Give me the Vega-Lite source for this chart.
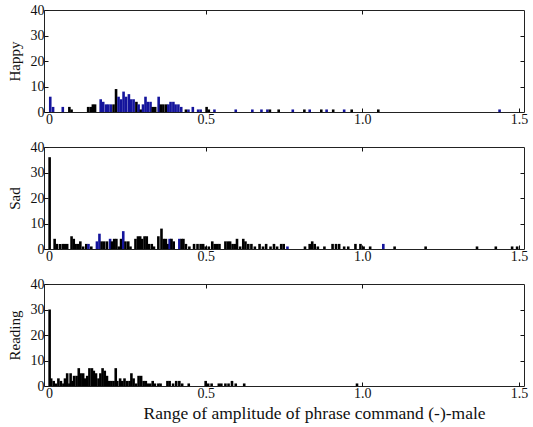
{
  "$schema": "https://vega.github.io/schema/vega-lite/v6.json",
  "background": "white",
  "padding": {"left": 6, "top": 2, "right": 0, "bottom": 5},
  "config": {
    "view": {"stroke": "#222", "strokeWidth": 1},
    "concat": {"spacing": 12},
    "axis": {
      "grid": false, "domain": false,
      "labelFont": "Liberation Serif", "labelFontSize": 14, "labelColor": "#111",
      "titleFont": "Liberation Serif", "titleFontWeight": "normal", "titleColor": "#111",
      "tickColor": "#111", "tickSize": -4, "labelPadding": 4
    }
  },
  "datasets": {
    "happy": [
      {"x":0.004,"n":6,"c":"blue"},{"x":0.013,"n":2,"c":"blue"},{"x":0.044,"n":2,"c":"blue"},{"x":0.065,"n":2,"c":"black"},{"x":0.072,"n":1,"c":"black"},
      {"x":0.125,"n":2,"c":"black"},{"x":0.133,"n":2,"c":"black"},{"x":0.140,"n":3,"c":"black"},{"x":0.147,"n":3,"c":"black"},{"x":0.165,"n":5,"c":"blue"},
      {"x":0.173,"n":4,"c":"blue"},{"x":0.182,"n":3,"c":"blue"},{"x":0.189,"n":3,"c":"blue"},{"x":0.197,"n":3,"c":"blue"},{"x":0.206,"n":3,"c":"black"},
      {"x":0.214,"n":9,"c":"black"},{"x":0.222,"n":6,"c":"blue"},{"x":0.230,"n":5,"c":"blue"},{"x":0.238,"n":8,"c":"blue"},{"x":0.246,"n":6,"c":"blue"},
      {"x":0.255,"n":7,"c":"blue"},{"x":0.262,"n":5,"c":"blue"},{"x":0.270,"n":5,"c":"blue"},{"x":0.279,"n":4,"c":"black"},{"x":0.286,"n":3,"c":"blue"},
      {"x":0.293,"n":1,"c":"black"},{"x":0.300,"n":3,"c":"blue"},{"x":0.308,"n":6,"c":"blue"},{"x":0.315,"n":4,"c":"blue"},{"x":0.324,"n":4,"c":"blue"},
      {"x":0.331,"n":2,"c":"black"},{"x":0.339,"n":2,"c":"black"},{"x":0.350,"n":6,"c":"blue"},{"x":0.357,"n":3,"c":"black"},{"x":0.365,"n":3,"c":"black"},
      {"x":0.374,"n":3,"c":"black"},{"x":0.381,"n":3,"c":"blue"},{"x":0.388,"n":4,"c":"blue"},{"x":0.397,"n":4,"c":"blue"},{"x":0.404,"n":3,"c":"blue"},
      {"x":0.413,"n":3,"c":"blue"},{"x":0.422,"n":2,"c":"blue"},{"x":0.437,"n":1,"c":"black"},{"x":0.445,"n":1,"c":"blue"},{"x":0.459,"n":2,"c":"blue"},
      {"x":0.476,"n":1,"c":"blue"},{"x":0.484,"n":1,"c":"blue"},{"x":0.503,"n":2,"c":"black"},{"x":0.510,"n":1,"c":"black"},{"x":0.528,"n":1,"c":"blue"},
      {"x":0.596,"n":1,"c":"blue"},{"x":0.649,"n":1,"c":"blue"},{"x":0.678,"n":1,"c":"blue"},{"x":0.697,"n":1,"c":"blue"},{"x":0.705,"n":1,"c":"black"},
      {"x":0.733,"n":1,"c":"black"},{"x":0.778,"n":1,"c":"blue"},{"x":0.815,"n":1,"c":"black"},{"x":0.832,"n":1,"c":"blue"},{"x":0.869,"n":1,"c":"black"},
      {"x":0.886,"n":1,"c":"blue"},{"x":0.907,"n":1,"c":"black"},{"x":0.942,"n":1,"c":"blue"},{"x":0.966,"n":1,"c":"black"},{"x":1.051,"n":1,"c":"black"},
      {"x":1.438,"n":1,"c":"blue"}
    ],
    "sad": [
      {"x":0.002,"n":36,"c":"black"},{"x":0.018,"n":4,"c":"black"},{"x":0.025,"n":2,"c":"black"},{"x":0.035,"n":2,"c":"black"},{"x":0.044,"n":2,"c":"black"},
      {"x":0.051,"n":2,"c":"black"},{"x":0.058,"n":2,"c":"black"},{"x":0.072,"n":5,"c":"black"},{"x":0.079,"n":4,"c":"black"},{"x":0.085,"n":2,"c":"black"},
      {"x":0.093,"n":2,"c":"black"},{"x":0.100,"n":3,"c":"black"},{"x":0.109,"n":1,"c":"black"},{"x":0.119,"n":2,"c":"black"},{"x":0.126,"n":2,"c":"blue"},
      {"x":0.135,"n":1,"c":"black"},{"x":0.153,"n":3,"c":"blue"},{"x":0.161,"n":6,"c":"blue"},{"x":0.168,"n":3,"c":"black"},{"x":0.176,"n":3,"c":"black"},
      {"x":0.185,"n":3,"c":"black"},{"x":0.195,"n":4,"c":"blue"},{"x":0.201,"n":3,"c":"black"},{"x":0.208,"n":4,"c":"black"},{"x":0.215,"n":4,"c":"black"},
      {"x":0.223,"n":1,"c":"black"},{"x":0.230,"n":4,"c":"black"},{"x":0.237,"n":7,"c":"blue"},{"x":0.244,"n":3,"c":"black"},{"x":0.253,"n":3,"c":"black"},
      {"x":0.260,"n":1,"c":"black"},{"x":0.276,"n":4,"c":"black"},{"x":0.284,"n":5,"c":"black"},{"x":0.291,"n":5,"c":"black"},{"x":0.297,"n":4,"c":"black"},
      {"x":0.305,"n":5,"c":"black"},{"x":0.312,"n":5,"c":"black"},{"x":0.319,"n":2,"c":"black"},{"x":0.328,"n":2,"c":"black"},{"x":0.335,"n":1,"c":"black"},
      {"x":0.349,"n":5,"c":"black"},{"x":0.359,"n":8,"c":"black"},{"x":0.366,"n":4,"c":"black"},{"x":0.373,"n":4,"c":"black"},{"x":0.380,"n":2,"c":"black"},
      {"x":0.385,"n":4,"c":"blue"},{"x":0.391,"n":4,"c":"black"},{"x":0.398,"n":3,"c":"black"},{"x":0.416,"n":4,"c":"blue"},{"x":0.423,"n":4,"c":"black"},
      {"x":0.429,"n":4,"c":"black"},{"x":0.437,"n":2,"c":"black"},{"x":0.448,"n":1,"c":"black"},{"x":0.463,"n":2,"c":"black"},{"x":0.474,"n":2,"c":"black"},
      {"x":0.484,"n":2,"c":"black"},{"x":0.492,"n":2,"c":"black"},{"x":0.500,"n":1,"c":"black"},{"x":0.510,"n":1,"c":"black"},{"x":0.521,"n":3,"c":"black"},
      {"x":0.529,"n":2,"c":"black"},{"x":0.537,"n":2,"c":"black"},{"x":0.544,"n":2,"c":"black"},{"x":0.563,"n":3,"c":"black"},{"x":0.571,"n":3,"c":"black"},
      {"x":0.578,"n":3,"c":"black"},{"x":0.586,"n":2,"c":"black"},{"x":0.594,"n":2,"c":"black"},{"x":0.600,"n":4,"c":"black"},{"x":0.610,"n":1,"c":"black"},
      {"x":0.620,"n":4,"c":"black"},{"x":0.627,"n":3,"c":"black"},{"x":0.636,"n":2,"c":"black"},{"x":0.646,"n":2,"c":"black"},{"x":0.657,"n":1,"c":"black"},
      {"x":0.672,"n":2,"c":"black"},{"x":0.683,"n":1,"c":"black"},{"x":0.693,"n":2,"c":"black"},{"x":0.707,"n":1,"c":"black"},{"x":0.718,"n":2,"c":"black"},
      {"x":0.728,"n":1,"c":"black"},{"x":0.741,"n":2,"c":"black"},{"x":0.749,"n":2,"c":"black"},{"x":0.761,"n":1,"c":"blue"},{"x":0.817,"n":1,"c":"black"},
      {"x":0.832,"n":2,"c":"black"},{"x":0.840,"n":3,"c":"black"},{"x":0.848,"n":2,"c":"black"},{"x":0.858,"n":1,"c":"black"},{"x":0.879,"n":1,"c":"black"},
      {"x":0.905,"n":2,"c":"black"},{"x":0.916,"n":2,"c":"black"},{"x":0.926,"n":2,"c":"black"},{"x":0.942,"n":1,"c":"black"},{"x":0.955,"n":1,"c":"black"},
      {"x":0.978,"n":2,"c":"black"},{"x":0.994,"n":2,"c":"black"},{"x":1.004,"n":1,"c":"black"},{"x":1.025,"n":1,"c":"black"},{"x":1.067,"n":2,"c":"blue"},
      {"x":1.103,"n":1,"c":"black"},{"x":1.202,"n":1,"c":"black"},{"x":1.366,"n":1,"c":"black"},{"x":1.426,"n":1,"c":"black"},{"x":1.478,"n":1,"c":"black"},
      {"x":1.494,"n":1,"c":"black"}
    ],
    "reading": [
      {"x":0.002,"n":30,"c":"black"},{"x":0.007,"n":3,"c":"black"},{"x":0.015,"n":2,"c":"black"},{"x":0.022,"n":1,"c":"black"},{"x":0.030,"n":3,"c":"black"},
      {"x":0.038,"n":2,"c":"black"},{"x":0.046,"n":1,"c":"black"},{"x":0.051,"n":3,"c":"black"},{"x":0.058,"n":5,"c":"black"},{"x":0.065,"n":1,"c":"black"},
      {"x":0.069,"n":5,"c":"black"},{"x":0.075,"n":2,"c":"black"},{"x":0.080,"n":4,"c":"black"},{"x":0.088,"n":4,"c":"black"},{"x":0.095,"n":7,"c":"black"},
      {"x":0.101,"n":5,"c":"black"},{"x":0.109,"n":5,"c":"black"},{"x":0.114,"n":3,"c":"black"},{"x":0.122,"n":4,"c":"black"},{"x":0.129,"n":7,"c":"black"},
      {"x":0.137,"n":7,"c":"black"},{"x":0.143,"n":6,"c":"black"},{"x":0.150,"n":5,"c":"black"},{"x":0.158,"n":3,"c":"black"},{"x":0.164,"n":5,"c":"black"},
      {"x":0.171,"n":7,"c":"black"},{"x":0.178,"n":6,"c":"black"},{"x":0.185,"n":4,"c":"black"},{"x":0.192,"n":2,"c":"black"},{"x":0.199,"n":2,"c":"black"},
      {"x":0.206,"n":2,"c":"black"},{"x":0.213,"n":7,"c":"black"},{"x":0.218,"n":2,"c":"black"},{"x":0.227,"n":3,"c":"black"},{"x":0.234,"n":2,"c":"black"},
      {"x":0.241,"n":3,"c":"black"},{"x":0.249,"n":2,"c":"black"},{"x":0.257,"n":2,"c":"black"},{"x":0.263,"n":5,"c":"black"},{"x":0.270,"n":3,"c":"black"},
      {"x":0.278,"n":1,"c":"black"},{"x":0.286,"n":4,"c":"black"},{"x":0.294,"n":4,"c":"black"},{"x":0.302,"n":2,"c":"black"},{"x":0.309,"n":2,"c":"black"},
      {"x":0.315,"n":1,"c":"black"},{"x":0.323,"n":1,"c":"black"},{"x":0.331,"n":2,"c":"black"},{"x":0.338,"n":1,"c":"black"},{"x":0.349,"n":1,"c":"black"},
      {"x":0.356,"n":1,"c":"black"},{"x":0.378,"n":2,"c":"black"},{"x":0.385,"n":2,"c":"black"},{"x":0.396,"n":1,"c":"black"},{"x":0.406,"n":2,"c":"black"},
      {"x":0.416,"n":2,"c":"black"},{"x":0.425,"n":1,"c":"black"},{"x":0.446,"n":1,"c":"black"},{"x":0.500,"n":2,"c":"black"},{"x":0.508,"n":1,"c":"black"},
      {"x":0.519,"n":1,"c":"black"},{"x":0.542,"n":1,"c":"black"},{"x":0.550,"n":1,"c":"black"},{"x":0.563,"n":1,"c":"black"},{"x":0.573,"n":1,"c":"black"},
      {"x":0.584,"n":2,"c":"black"},{"x":0.596,"n":1,"c":"black"},{"x":0.623,"n":1,"c":"black"},{"x":0.983,"n":1,"c":"black"}
    ]
  },
  "vconcat": [
    {
      "width": 480, "height": 102,
      "data": {"name": "happy"},
      "layer": [
        {
          "mark": {"type": "bar", "size": 2.6},
          "encoding": {
            "x": {"field": "x", "type": "quantitative", "scale": {"domain": [0, 1.5], "nice": false},
                  "axis": {"orient": "bottom", "values": [0, 0.5, 1, 1.5], "title": null, "labelFlush": false,
                           "labelExpr": "datum.value == 0 ? '0' : format(datum.value, '.1f')"}},
            "y": {"field": "n", "type": "quantitative", "scale": {"domain": [0, 40], "nice": false},
                  "axis": {"orient": "left", "values": [0, 10, 20, 30, 40], "title": "Happy", "titleFontSize": 15, "titlePadding": 8}},
            "color": {"field": "c", "type": "nominal", "scale": {"domain": ["black", "blue"], "range": ["#000000", "#14149c"]}, "legend": null}
          }
        },
        {
          "mark": {"type": "bar", "size": 2.6, "opacity": 0},
          "encoding": {
            "x": {"field": "x", "type": "quantitative", "axis": {"orient": "top", "values": [0.5, 1], "labels": false, "title": null}},
            "y": {"field": "n", "type": "quantitative", "axis": {"orient": "right", "values": [10, 20, 30], "labels": false, "title": null}}
          }
        }
      ],
      "resolve": {"axis": {"x": "independent", "y": "independent"}}
    },
    {
      "width": 480, "height": 102,
      "data": {"name": "sad"},
      "layer": [
        {
          "mark": {"type": "bar", "size": 2.6},
          "encoding": {
            "x": {"field": "x", "type": "quantitative", "scale": {"domain": [0, 1.5], "nice": false},
                  "axis": {"orient": "bottom", "values": [0, 0.5, 1, 1.5], "title": null, "labelFlush": false,
                           "labelExpr": "datum.value == 0 ? '0' : format(datum.value, '.1f')"}},
            "y": {"field": "n", "type": "quantitative", "scale": {"domain": [0, 40], "nice": false},
                  "axis": {"orient": "left", "values": [0, 10, 20, 30, 40], "title": "Sad", "titleFontSize": 15, "titlePadding": 8}},
            "color": {"field": "c", "type": "nominal", "scale": {"domain": ["black", "blue"], "range": ["#000000", "#14149c"]}, "legend": null}
          }
        },
        {
          "mark": {"type": "bar", "size": 2.6, "opacity": 0},
          "encoding": {
            "x": {"field": "x", "type": "quantitative", "axis": {"orient": "top", "values": [0.5, 1], "labels": false, "title": null}},
            "y": {"field": "n", "type": "quantitative", "axis": {"orient": "right", "values": [10, 20, 30], "labels": false, "title": null}}
          }
        }
      ],
      "resolve": {"axis": {"x": "independent", "y": "independent"}}
    },
    {
      "width": 480, "height": 102,
      "data": {"name": "reading"},
      "layer": [
        {
          "mark": {"type": "bar", "size": 2.6},
          "encoding": {
            "x": {"field": "x", "type": "quantitative", "scale": {"domain": [0, 1.5], "nice": false},
                  "axis": {"orient": "bottom", "values": [0, 0.5, 1, 1.5], "title": "Range of amplitude of phrase command (-)-male", "titleFontSize": 17.5, "titlePadding": 4, "titleX": 270, "titleAlign": "center", "labelFlush": false,
                           "labelExpr": "datum.value == 0 ? '0' : format(datum.value, '.1f')"}},
            "y": {"field": "n", "type": "quantitative", "scale": {"domain": [0, 40], "nice": false},
                  "axis": {"orient": "left", "values": [0, 10, 20, 30, 40], "title": "Reading", "titleFontSize": 15, "titlePadding": 8}},
            "color": {"field": "c", "type": "nominal", "scale": {"domain": ["black", "blue"], "range": ["#000000", "#14149c"]}, "legend": null}
          }
        },
        {
          "mark": {"type": "bar", "size": 2.6, "opacity": 0},
          "encoding": {
            "x": {"field": "x", "type": "quantitative", "axis": {"orient": "top", "values": [0.5, 1], "labels": false, "title": null}},
            "y": {"field": "n", "type": "quantitative", "axis": {"orient": "right", "values": [10, 20, 30], "labels": false, "title": null}}
          }
        }
      ],
      "resolve": {"axis": {"x": "independent", "y": "independent"}}
    }
  ]
}
